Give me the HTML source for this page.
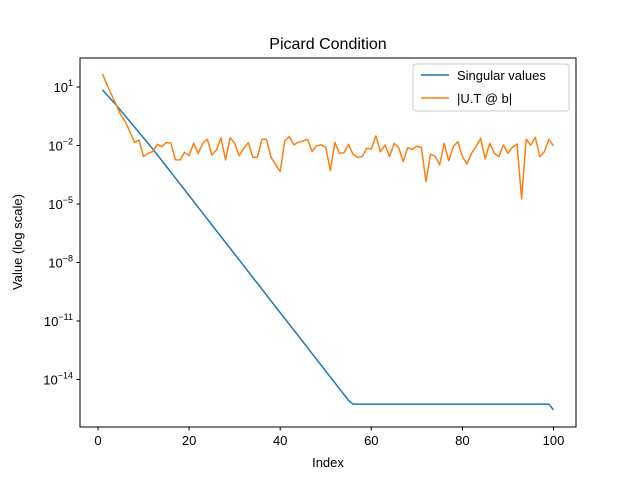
<!DOCTYPE html>
<html><head><meta charset="utf-8"><style>
body{margin:0;background:#fff}
svg{font-family:"Liberation Sans","DejaVu Sans",sans-serif}
</style></head><body>
<svg id="chart" width="640" height="480" viewBox="0 0 640 480">
<rect width="640" height="480" fill="#fff"/>
<text x="328" y="49" font-size="16" text-anchor="middle">Picard Condition</text>
<text x="328" y="467" font-size="13" text-anchor="middle">Index</text>
<text x="22" y="242" font-size="13" text-anchor="middle" transform="rotate(-90 22 242)">Value (log scale)</text>
<g id="ticks"></g>
<g id="series"></g>
<rect x="80" y="58" width="496" height="369" fill="none" stroke="#000" stroke-width="1"/>
<g>
<rect x="413" y="64" width="156" height="47" rx="3" fill="#fff" fill-opacity="0.8" stroke="#ccc"/>
<line x1="421" y1="75" x2="449" y2="75" stroke="#1f77b4" stroke-width="1.5"/>
<text x="457" y="80" font-size="13">Singular values</text>
<line x1="421" y1="98" x2="449" y2="98" stroke="#ff7f0e" stroke-width="1.5"/>
<text x="457" y="103" font-size="13">|U.T @ b|</text>
</g>
</svg>
<script>
// log10 of values, index 1..100
const singularLog = [0.85,0.59,0.33,0.07,-0.21,-0.49,-0.77,-1.05,-1.33,-1.61,-1.89,-2.17,-2.47,-2.77,-3.07,-3.37,-3.67,-3.97,-4.27,-4.57,-4.87,-5.17,-5.47,-5.77,-6.07,-6.37,-6.67,-6.97,-7.27,-7.57,-7.87,-8.17,-8.47,-8.77,-9.07,-9.37,-9.67,-9.97,-10.27,-10.57,-10.87,-11.17,-11.47,-11.77,-12.07,-12.37,-12.67,-12.97,-13.27,-13.57,-13.87,-14.17,-14.47,-14.77,-15.07,-15.26,-15.26,-15.26,-15.26,-15.26,-15.26,-15.26,-15.26,-15.26,-15.26,-15.26,-15.26,-15.26,-15.26,-15.26,-15.26,-15.26,-15.26,-15.26,-15.26,-15.26,-15.26,-15.26,-15.26,-15.26,-15.26,-15.26,-15.26,-15.26,-15.26,-15.26,-15.26,-15.26,-15.26,-15.26,-15.26,-15.26,-15.26,-15.26,-15.26,-15.26,-15.26,-15.26,-15.26,-15.56];
const utbLog = [1.67,1.1,0.59,0.08,-0.44,-0.78,-1.29,-1.84,-1.72,-2.57,-2.40,-2.31,-1.94,-2.06,-1.85,-1.88,-2.74,-2.74,-2.35,-2.52,-1.88,-2.40,-1.88,-1.68,-2.49,-2.23,-1.60,-2.74,-1.60,-1.88,-2.52,-2.15,-1.85,-2.61,-2.61,-1.68,-1.68,-2.61,-2.97,-3.34,-1.77,-1.55,-1.97,-1.83,-1.77,-1.68,-2.31,-2.01,-1.97,-2.09,-3.29,-1.84,-2.40,-2.37,-1.94,-2.45,-2.61,-2.57,-2.14,-2.18,-1.51,-2.32,-1.97,-2.57,-1.89,-2.11,-2.83,-2.11,-2.20,-2.04,-2.11,-3.85,-2.45,-2.54,-3.0,-1.89,-2.78,-2.06,-1.80,-2.57,-2.95,-2.40,-2.06,-1.63,-2.69,-1.89,-2.40,-2.57,-1.97,-2.40,-2.09,-1.92,-4.74,-1.68,-1.99,-1.58,-2.57,-2.32,-1.68,-2.02];
const xTicks = [0,20,40,60,80,100];
const yTicks = [1,-2,-5,-8,-11,-14];

const NS="http://www.w3.org/2000/svg";
const X = i => 98 + 4.555*i;
const Y = l => 87 - (l-1)*19.5;
const tg=document.getElementById('ticks'), sg=document.getElementById('series');
function mk(tag,attrs,parent){const e=document.createElementNS(NS,tag);for(const k in attrs)e.setAttribute(k,attrs[k]);parent.appendChild(e);return e;}
xTicks.forEach(t=>{
  const l=mk('line',{x1:X(t),x2:X(t),y1:427,y2:430.5,stroke:'#000'},tg);
  
  
  const tx=mk('text',{x:X(t),y:445,'font-size':13,'text-anchor':'middle'},tg);
  tx.textContent=t;
  
  
});
yTicks.forEach(t=>{
  const l=mk('line',{x1:76.5,x2:80,y1:Y(t),y2:Y(t),stroke:'#000'},tg);
  
  
  const tx=mk('text',{x:73,y:Y(t)+5,'font-size':13,'text-anchor':'end'},tg);
  tx.innerHTML='10<tspan dy="-6" font-size="9">'+(t<0?'\u2212'+(-t):t)+'</tspan>';
  
  
});
function line(arr,color,name){
  const d=arr.map((v,k)=>(k?'L':'M')+X(k+1).toFixed(2)+' '+Y(v).toFixed(2)).join(' ');
  const p=mk('path',{d:d,fill:'none',stroke:color,'stroke-width':1.5,'stroke-linejoin':'round'},sg);
  
  
}
line(singularLog,'#1f77b4','singular-values-line');
line(utbLog,'#ff7f0e','utb-line');
</script>
</body></html>
